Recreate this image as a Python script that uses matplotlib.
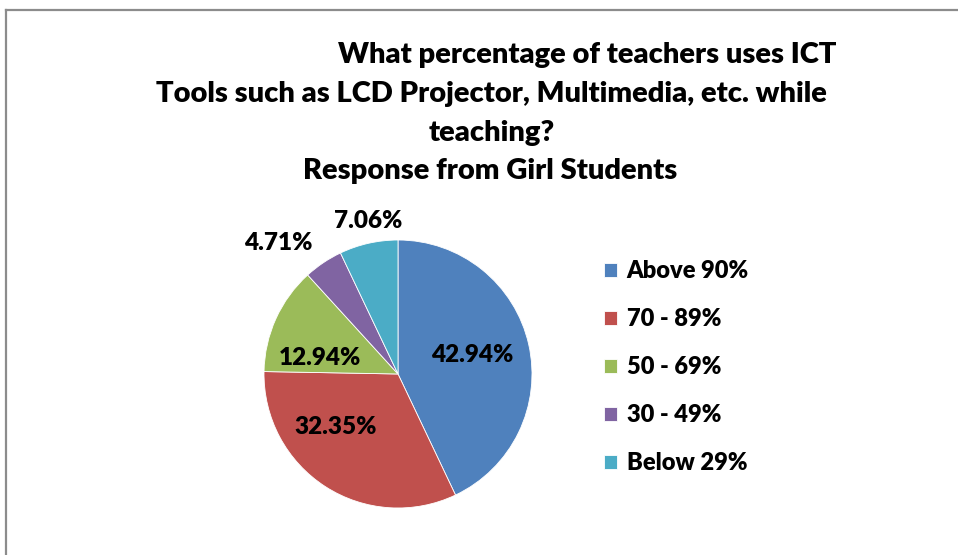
import matplotlib
matplotlib.use('Agg')
import matplotlib.pyplot as plt
from matplotlib.lines import Line2D

categories = ['Above 90%', '70 - 89%', '50 - 69%', '30 - 49%', 'Below 29%']
values = [42.94, 32.35, 12.94, 4.71, 7.06]
colors = ['#4F81BD', '#C0504D', '#9BBB59', '#8064A2', '#4BACC6']
title_lines = ['What percentage of teachers uses ICT',
               'Tools such as LCD Projector, Multimedia, etc. while',
               'teaching?',
               'Response from Girl Students']

plt.rcParams['font.family'] = ['Lato', 'DejaVu Sans']
WEIGHT = 'heavy'

W, H = 958, 555
fig = plt.figure(figsize=(W / 100, H / 100), dpi=100)
fig.patch.set_facecolor('white')

# chart frame (left and top edges are visible)
fig.add_artist(Line2D([6 / W, 6 / W], [0, 1 - 10 / H], color='#8c8c8c', lw=1.6))
fig.add_artist(Line2D([6 / W, 1], [1 - 10 / H, 1 - 10 / H], color='#8c8c8c', lw=1.6))

# title, line by line
title_pos = [(587, 55), (491, 94), (492, 133), (490, 171)]
for line, (x, y) in zip(title_lines, title_pos):
    fig.text(x / W, 1 - y / H, line, ha='center', va='center',
             fontsize=21, fontweight=WEIGHT, color='black')

# pie
cx, cy, r = 398, 374, 134
ax = fig.add_axes([(cx - r) / W, (H - cy - r) / H, 2 * r / W, 2 * r / H])
wedges, texts, autotexts = ax.pie(values, colors=colors, startangle=90, counterclock=False,
                                  autopct=lambda p: '%.2f%%' % p, radius=1,
                                  wedgeprops=dict(edgecolor='white', linewidth=0.6),
                                  textprops=dict(fontsize=17.5, fontweight=WEIGHT, color='black'))
ax.set_xlim(-1, 1)
ax.set_ylim(-1, 1)
ax.axis('off')

# label positions in pixels (Excel best-fit placement)
label_px = [(472, 355), (336, 427), (320, 358), (278, 243), (368, 221)]
for t, (x, y), v in zip(autotexts, label_px, values):
    t.set_text('%.2f%%' % v)
    t.set_position(((x - cx) / r, (cy - y) / r))
    t.set_ha('center')
    t.set_va('center')

fig.legend(wedges, categories, loc='upper left', bbox_to_anchor=(583 / W, 1 - 239 / H),
           frameon=False, prop=dict(size=17, weight=WEIGHT),
           handlelength=0.55, handleheight=0.55, handletextpad=0.4, labelspacing=1.1)

fig.savefig('out.png', dpi=100, facecolor='white')
